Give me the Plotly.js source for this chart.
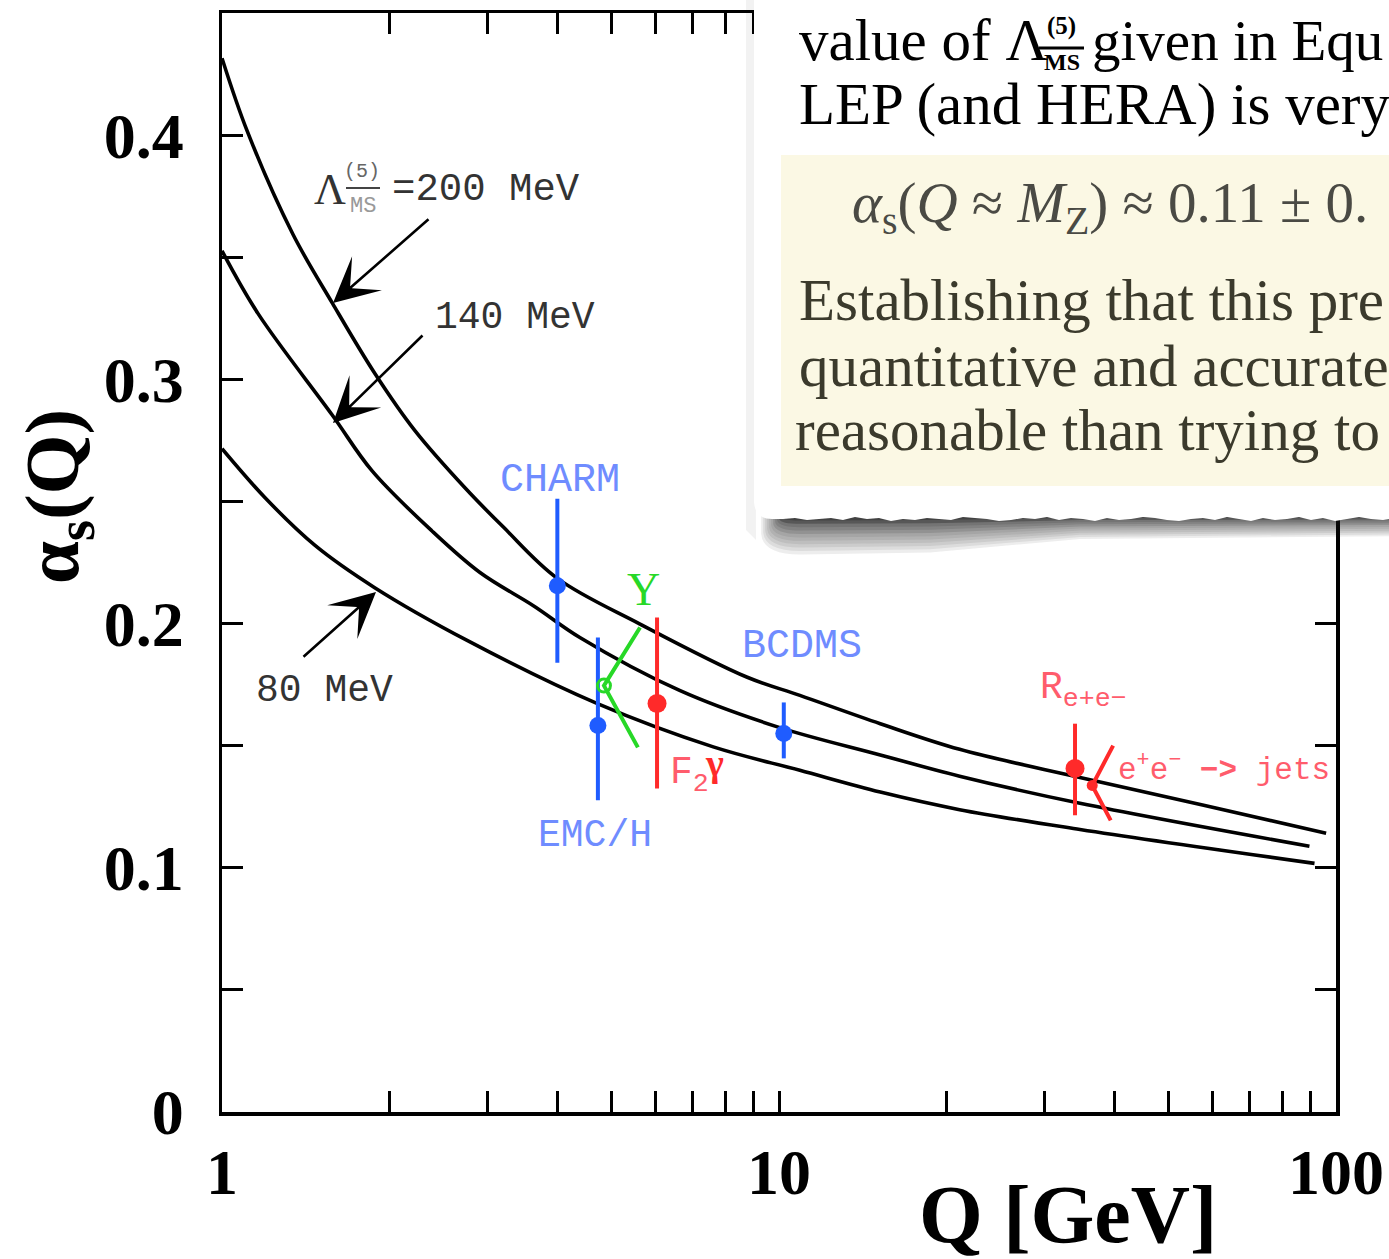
<!DOCTYPE html>
<html><head><meta charset="utf-8">
<script src="https://cdn.plot.ly/plotly-3.0.1.min.js"></script>
<style>html,body{margin:0;padding:0;background:#fff}#chart{width:1389px;height:1259px}</style>
</head><body><div id="chart"></div>
<script>
// ---- data ----
const q200 = [1.0, 1.11, 1.34, 1.58, 1.88, 2.22, 2.73, 3.2, 4.0, 5.63, 8.77, 10.9, 15.2, 21.1, 34.7, 57.6, 96];
const a200 = [0.4315, 0.4016, 0.3595, 0.331, 0.3025, 0.279, 0.2556, 0.2395, 0.2185, 0.1998, 0.178, 0.1706, 0.159, 0.1485, 0.137, 0.1257, 0.1141];
const q140 = [1.0, 1.16, 1.576, 1.86, 2.38, 2.905, 3.64, 4.39, 6.63, 10.0, 15.2, 21.1, 34.7, 89.6];
const a140 = [0.3526, 0.327, 0.2855, 0.2625, 0.238, 0.2209, 0.207, 0.1943, 0.1726, 0.1575, 0.1462, 0.1375, 0.1264, 0.1088];
const q80 = [1.0, 1.195, 1.469, 1.88, 2.76, 4.71, 7.62, 10.9, 15.2, 21.1, 34.7, 91.5];
const a80 = [0.2716, 0.2515, 0.232, 0.2147, 0.193, 0.1673, 0.1495, 0.1399, 0.131, 0.1238, 0.1157, 0.1018];

const blueNames = ["CHARM", "EMC/H", "BCDMS"];
const blueQ = [4.0, 4.73, 10.2];
const blueA = [0.2155, 0.1583, 0.155];
const blueErrUp = [0.0356, 0.036, 0.0127];
const blueErrDown = [0.0315, 0.0307, 0.0102];

const redNames = ["F2γ", "Re+e−"];
const redQ = [6.04, 34.0];
const redA = [0.1673, 0.1407];
const redErrUp = [0.0352, 0.0183];
const redErrDown = [0.0348, 0.0192];

const upsQ = [5.63, 4.85, 5.58];
const upsA = [0.1984, 0.1746, 0.1493];
const jetsQ = [39.8, 36.5, 39.4];
const jetsA = [0.150, 0.1337, 0.1194];

const xTickVals = [1, 10, 100];
const xTickText = ["1", "10", "100"];
const xMinorVals = [2,3,4,5,6,7,8,9,20,30,40,50,60,70,80,90];
const yTickVals = [0, 0.1, 0.2, 0.3, 0.4];
const yTickText = ["0", "0.1", "0.2", "0.3", "0.4"];
const yMinorVals = [0.05, 0.15, 0.25, 0.35];

// ---- layout helpers (pixel -> paper) ----
const W = 1389, H = 1259;
const L = 222, R = 1336, T = 13, B = 1112;
const px = x => (x - L) / (R - L);
const py = y => (B - y) / (B - T);
const P = (x, y) => px(x).toFixed(5) + ',' + py(y).toFixed(5);

const blue = '#1f5cff', lblue = '#6f8cff', red = '#ff2a2a', lred = '#ff5c6c', green = '#27d827';
const serif = 'Liberation Serif, Times New Roman, serif';
const mono = 'Liberation Mono, Courier New, monospace';
const curveLine = {color: '#000', width: 3.6, shape: 'spline', smoothing: 1};

const traces = [
  {x: q200, y: a200, mode: 'lines', line: curveLine, hoverinfo: 'skip'},
  {x: q140, y: a140, mode: 'lines', line: curveLine, hoverinfo: 'skip'},
  {x: q80, y: a80, mode: 'lines', line: curveLine, hoverinfo: 'skip'},
  {x: blueQ, y: blueA, text: blueNames, mode: 'markers', marker: {color: blue, size: 17},
   error_y: {type: 'data', symmetric: false, array: blueErrUp, arrayminus: blueErrDown, thickness: 4, width: 0, color: blue}},
  {x: redQ, y: redA, text: redNames, mode: 'markers', marker: {color: red, size: 19},
   error_y: {type: 'data', symmetric: false, array: redErrUp, arrayminus: redErrDown, thickness: 4, width: 0, color: red}},
  {x: upsQ, y: upsA, mode: 'lines', line: {color: green, width: 4}},
  {x: [upsQ[1]], y: [upsA[1]], mode: 'markers', marker: {color: 'rgba(0,0,0,0)', size: 13, line: {color: green, width: 3}}},
  {x: jetsQ, y: jetsA, mode: 'lines', line: {color: red, width: 4}},
  {x: [jetsQ[1]], y: [jetsA[1]], mode: 'markers', marker: {color: red, size: 11}}
];

// torn paper card
const jag = [0,2,1,-1,1,3,0,2,-1,1,2,0,3,1,-1,2,0,1,3,2,0,-1,1,2,0,3,1,0,2,-1,1,0,2,3,1,0,-1,2,1,0,2,1,3,0,1,-1,2,0,1,2,0,1,3,1];
let edge = '';
for (let i = 0; i < jag.length; i++) {
  const x = 1395 - i * 12;
  if (x < 778) break;
  edge += ' L' + P(x, 518 + jag[i]);
}
const cardPath = 'M' + P(754, -5) + ' L' + P(1395, -5) + ' L' + P(1395, 519) + edge +
  ' L' + P(772, 519) + ' Q' + P(755, 519) + ' ' + P(754, 502) + ' Z';

const shapes = [
  {type: 'path', xref: 'paper', yref: 'paper', layer: 'above', line: {width: 0}, fillcolor: 'rgba(0,0,0,0.05)',
   path: 'M' + P(746, 0) + ' L' + P(756, 0) + ' L' + P(756, 540) + ' L' + P(746, 530) + ' Z'}
];
// layered soft shadow under the card (darker close to the edge, deeper on the left)
for (let k = 11; k >= 0; k--) {
  const d = 3 + 3.4 * k;
  const xl = 770 + (11 - k) * 1.2 - k * 0.8;
  shapes.push({type: 'path', xref: 'paper', yref: 'paper', layer: 'above', line: {width: 0},
    fillcolor: 'rgba(20,20,20,' + (k < 3 ? 0.3 : (k < 6 ? 0.13 : 0.08)) + ')',
    path: 'M' + P(xl, 512) + ' L' + P(1395, 512) + ' L' + P(1395, 514 + d * 0.55) + ' L' + P(1080, 514 + d * 0.62) +
      ' L' + P(930, 514 + d * 0.95) + ' L' + P(800, 514 + d) + ' Q' + P(xl + 2, 514 + d) + ' ' + P(xl, 514 + d * 0.5) + ' Z'});
}
shapes.push(
  {type: 'path', xref: 'paper', yref: 'paper', layer: 'above', line: {width: 0}, fillcolor: '#ffffff', path: cardPath},
  {type: 'rect', xref: 'paper', yref: 'paper', layer: 'above', line: {width: 0}, fillcolor: '#fbf8e4',
   x0: px(781), x1: px(1395), y0: py(486), y1: py(155)},
  {type: 'line', xref: 'paper', yref: 'paper', layer: 'above', line: {width: 3, color: '#000'},
   x0: px(1039), x1: px(1084), y0: py(48), y1: py(48)},
  {type: 'line', xref: 'paper', yref: 'paper', layer: 'above', line: {width: 2, color: '#444'},
   x0: px(346), x1: px(380), y0: py(188), y1: py(188)}
);

function txt(text, x, y, size, color, family, xanchor, extra) {
  return Object.assign({text: text, xref: 'paper', yref: 'paper', x: px(x), y: py(y), xanchor: xanchor || 'center', yanchor: 'middle',
    showarrow: false, font: {size: size, color: color, family: family}}, extra || {});
}
function arrow(tipX, tipY, tailX, tailY) {
  return {text: '', xref: 'paper', yref: 'paper', x: px(tipX), y: py(tipY), ax: tailX - tipX, ay: tailY - tipY,
    showarrow: true, arrowhead: 3, arrowsize: 2.9, arrowwidth: 2.6, arrowcolor: '#000', standoff: 0, startstandoff: 0};
}

const cardBody = '#3b3a2c';
const annotations = [
  // axis titles
  txt('<b>Q [GeV]</b>', 1068, 1214, 82, '#000', serif),
  txt('<b>α<sub>s</sub>(Q)</b>', 58, 497, 77, '#000', serif, 'center', {textangle: -90}),
  // curve labels
  txt('Λ', 330, 190, 44, '#333', serif),
  txt('(5)', 362, 172, 20, '#666', mono),
  txt('MS', 363, 206, 22, '#999', mono),
  txt('=200 MeV', 390, 190, 39, '#333', mono, 'left'),
  txt('140 MeV', 433, 318, 38, '#333', mono, 'left'),
  txt('80 MeV', 254, 690, 38, '#333', mono, 'left'),
  arrow(333, 303, 430, 218),
  arrow(333, 423, 424, 334),
  arrow(376, 592, 302, 658),
  // data labels
  txt('CHARM', 560, 481, 40, lblue, mono),
  txt('BCDMS', 802, 646, 40, lblue, mono),
  txt('EMC/H', 595, 835, 38, lblue, mono),
  txt('Υ', 643, 589, 46, green, serif),
  txt('F<sub>2</sub>', 668, 775, 38, lred, mono, 'left'),
  txt('<b>γ</b>', 714, 763, 38, red, serif),
  txt('R<sub>e+e−</sub>', 1038, 690, 38, lred, mono, 'left'),
  txt('e<sup>+</sup>e<sup>−</sup> <b>−></b> jets', 1116, 768, 31, lred, mono, 'left'),
  // card text
  txt('value of Λ', 797, 40, 59, '#000', serif, 'left'),
  txt('<b>(5)</b>', 1061, 26, 25, '#000', serif),
  txt('<b>MS</b>', 1062, 62, 24, '#000', serif),
  txt('given in Equ', 1090, 40, 57, '#000', serif, 'left'),
  txt('LEP (and HERA) is very', 797, 104, 59, '#000', serif, 'left'),
  txt('<i>α</i><sub>s</sub>(<i>Q</i> ≈ <i>M</i><sub>Z</sub>) ≈ 0.11 ± 0.', 850, 207, 57, '#4a4a44', serif, 'left'),
  txt('Establishing that this pre', 797, 300, 59, cardBody, serif, 'left'),
  txt('quantitative and accurate', 797, 366, 59, cardBody, serif, 'left'),
  txt('reasonable than trying to', 793, 430, 59, cardBody, serif, 'left')
];

const tickFont = {family: serif, size: 64, color: '#000', weight: 'bold'};
const axisCommon = {showgrid: false, zeroline: false, showline: true, linewidth: 3.5, linecolor: '#000',
  mirror: 'ticks', ticks: 'inside', ticklen: 21, tickwidth: 3, tickcolor: '#000', tickfont: tickFont, tickmode: 'array'};
const layout = {
  width: W, height: H,
  margin: {l: L, r: W - R, t: T, b: H - B, pad: 0},
  paper_bgcolor: '#fff', plot_bgcolor: '#fff',
  showlegend: false,
  xaxis: Object.assign({}, axisCommon, {type: 'log', range: [0, 2], tickvals: xTickVals, ticktext: xTickText, ticklabelstandoff: 2,
    minor: {tickmode: 'array', tickvals: xMinorVals, ticks: 'inside', ticklen: 21, tickwidth: 3, tickcolor: '#000', showgrid: false}}),
  yaxis: Object.assign({}, axisCommon, {range: [0, 0.45], tickvals: yTickVals, ticktext: yTickText, ticklabelstandoff: 22,
    minor: {tickmode: 'array', tickvals: yMinorVals, ticks: 'inside', ticklen: 21, tickwidth: 3, tickcolor: '#000', showgrid: false}}),
  shapes: shapes,
  annotations: annotations
};

Plotly.newPlot('chart', traces, layout, {staticPlot: true, displayModeBar: false});
</script></body></html>
